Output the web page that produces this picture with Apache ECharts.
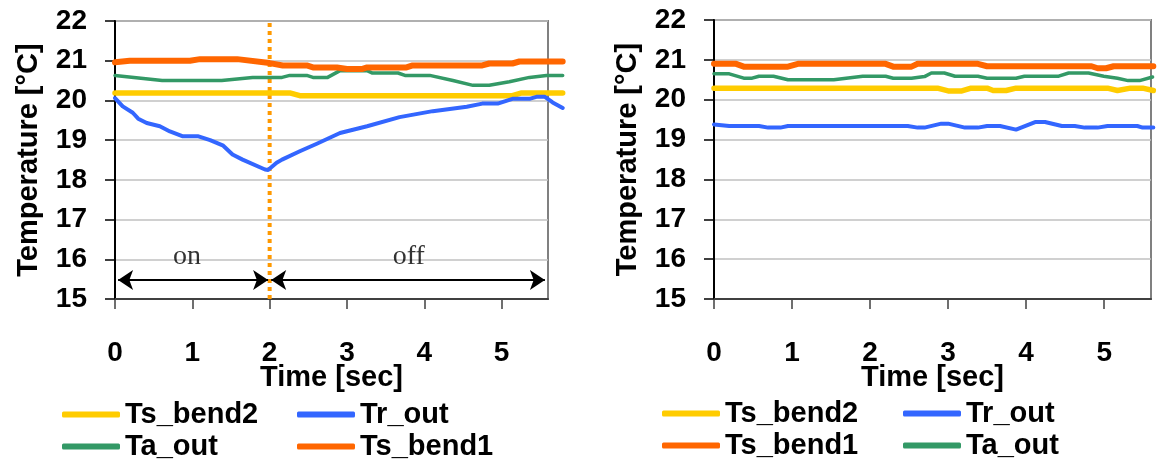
<!DOCTYPE html>
<html>
<head>
<meta charset="utf-8">
<script src="https://cdn.jsdelivr.net/npm/echarts@6/dist/echarts.min.js"></script>
<style>html,body{margin:0;padding:0;background:#fff;}#c{width:1164px;height:461px;}</style>
</head>
<body>
<div id="c"></div>
<script>
// ---- data (time [s], temperature [°C]) ----
const xTicks = [0, 1, 2, 3, 4, 5];
const yTicks = [15, 16, 17, 18, 19, 20, 21, 22];

// left chart (pump on 0-2 s, off afterwards)
const L_Ts_bend2 = [[0,20.19],[2.26,20.19],[2.39,20.12],[5.14,20.12],[5.26,20.19],[5.79,20.19]];
const L_Tr_out = [[0,20.06],[0.10,19.85],[0.23,19.69],[0.30,19.54],[0.41,19.43],[0.58,19.35],[0.71,19.22],[0.87,19.10],[1.07,19.10],[1.23,19.0],[1.40,18.86],[1.52,18.64],[1.65,18.51],[1.94,18.26],[1.98,18.25],[2.09,18.43],[2.16,18.51],[2.39,18.72],[2.61,18.91],[2.91,19.18],[3.26,19.35],[3.68,19.58],[4.11,19.73],[4.55,19.84],[4.75,19.92],[4.95,19.92],[5.14,20.04],[5.36,20.04],[5.45,20.09],[5.56,20.09],[5.66,19.95],[5.79,19.81]];
const L_Ta_out = [[0,20.63],[0.61,20.50],[1.38,20.50],[1.78,20.58],[2.16,20.58],[2.26,20.63],[2.48,20.63],[2.56,20.58],[2.75,20.58],[2.91,20.75],[3.26,20.75],[3.33,20.69],[3.66,20.69],[3.75,20.63],[4.07,20.63],[4.37,20.5],[4.63,20.38],[4.84,20.38],[5.10,20.47],[5.36,20.58],[5.58,20.63],[5.79,20.63]];
const L_Ts_bend1 = [[0,20.96],[0.19,21.0],[0.97,21.0],[1.10,21.04],[1.58,21.04],[2.0,20.94],[2.17,20.88],[2.48,20.88],[2.56,20.83],[2.87,20.83],[3.0,20.79],[3.19,20.79],[3.26,20.83],[3.77,20.83],[3.85,20.88],[4.75,20.88],[4.84,20.93],[5.14,20.93],[5.23,20.98],[5.79,20.98]];

// right chart
const R_Ts_bend2 = [[0,20.29],[2.93,20.29],[3.07,20.22],[3.25,20.22],[3.37,20.29],[3.58,20.29],[3.66,20.23],[3.83,20.23],[3.96,20.29],[5.16,20.29],[5.29,20.23],[5.46,20.29],[5.62,20.29],[5.76,20.23]];
const R_Tr_out = [[0,19.38],[0.20,19.34],[0.59,19.34],[0.71,19.30],[0.87,19.30],[0.97,19.34],[2.54,19.34],[2.67,19.30],[2.76,19.30],[2.98,19.40],[3.07,19.40],[3.29,19.30],[3.46,19.30],[3.58,19.34],[3.75,19.34],[3.96,19.25],[4.21,19.44],[4.34,19.44],[4.56,19.34],[4.73,19.34],[4.86,19.30],[5.03,19.30],[5.16,19.34],[5.55,19.34],[5.62,19.30],[5.76,19.30]];
const R_Ts_bend1 = [[0,20.90],[0.29,20.90],[0.39,20.83],[0.97,20.83],[1.10,20.90],[2.25,20.90],[2.35,20.83],[2.59,20.83],[2.67,20.90],[3.46,20.90],[3.58,20.84],[4.95,20.84],[5.03,20.79],[5.14,20.79],[5.24,20.84],[5.76,20.84]];
const R_Ta_out = [[0,20.65],[0.20,20.65],[0.39,20.54],[0.50,20.54],[0.59,20.59],[0.78,20.59],[0.97,20.50],[1.57,20.50],[1.95,20.59],[2.25,20.59],[2.35,20.54],[2.59,20.54],[2.76,20.58],[2.85,20.67],[3.02,20.67],[3.16,20.59],[3.46,20.59],[3.58,20.54],[3.96,20.54],[4.07,20.59],[4.52,20.59],[4.65,20.67],[4.91,20.67],[5.11,20.59],[5.29,20.54],[5.43,20.48],[5.58,20.48],[5.75,20.57]];

// annotations (left chart)
const switchTime = 2;
const arrowY = 15.48;
const onSpan = [0.04, 1.98];
const offSpan = [2.02, 5.56];
const phaseLabels = [[0.93, 16.07, 'on'], [3.80, 16.07, 'off']];

// ---- styling ----
const FONT = 'Liberation Sans, Arial, sans-serif';
const COLORS = {Ts_bend2:'#FFCC00', Tr_out:'#3366FF', Ta_out:'#339966', Ts_bend1:'#FF6600'};
const WIDTHS = {Ts_bend2:5.5, Tr_out:4, Ta_out:3.5, Ts_bend1:6};
const X_MAX = 5.6, X_DATA_MAX = 5.9;
const plotBoxes = [
  {left:115, top:21, width:433, height:278},
  {left:714, top:20, width:437, height:279}
];
// visible axis grids (0,1) + wider data grids (2,3) sharing the same scale, so the
// lines can run past the right border as in the original
const grids = plotBoxes.map(g => Object.assign({show:true, borderColor:'#808080', borderWidth:2, backgroundColor:'#fff'}, g))
  .concat(plotBoxes.map(g => ({show:false, left:g.left, top:g.top, height:g.height, width:g.width * X_DATA_MAX / X_MAX})));

function mkLine(name, data, idx) {
  return {
    name, type:'line', data, xAxisIndex:idx, yAxisIndex:idx,
    symbol:'none', clip:false, z:3,
    lineStyle:{color:COLORS[name], width:WIDTHS[name], cap:'round', join:'round'},
    itemStyle:{color:COLORS[name]}
  };
}
function mkX(idx) {
  return {
    type:'value', gridIndex:idx, min:0, max:X_MAX, interval:1,
    name:'Time [sec]', nameLocation:'middle', nameGap:64, nameMoveOverlap:false,
    nameTextStyle:{fontFamily:FONT, fontSize:29, fontWeight:'bold', color:'#000'},
    axisLine:{show:true, lineStyle:{color:'#404040', width:2}},
    axisTick:{show:true, length:10, inside:false, customValues:xTicks, lineStyle:{color:'#404040', width:1.5}},
    axisLabel:{customValues:xTicks, margin:40, fontFamily:FONT, fontSize:28, fontWeight:'bold', color:'#000'},
    splitLine:{show:false}
  };
}
function mkY(idx) {
  return {
    type:'value', gridIndex:idx, min:15, max:22, interval:1,
    name:'Temperature [°C]', nameLocation:'middle', nameGap:72, nameMoveOverlap:false,
    nameTextStyle:{fontFamily:FONT, fontSize:29, fontWeight:'bold', color:'#000'},
    axisLine:{show:true, lineStyle:{color:'#000', width:2}},
    axisTick:{show:true, length:10, lineStyle:{color:'#000', width:1.5}},
    axisLabel:{margin:28, fontFamily:FONT, fontSize:28, fontWeight:'bold', color:'#000'},
    splitLine:{show:true, lineStyle:{color:'#C0C0C0', width:1.5}}
  };
}
function mkDataX(idx) { return {type:'value', gridIndex:idx, min:0, max:X_DATA_MAX, show:false}; }
function mkDataY(idx) { return {type:'value', gridIndex:idx, min:15, max:22, show:false}; }
function mkLegend(names, left, top) {
  return {
    data:names, orient:'vertical', left, top, itemGap:3, padding:0,
    icon:'roundRect', itemWidth:58, itemHeight:6,
    textStyle:{fontFamily:FONT, fontSize:29, fontWeight:'bold', color:'#000', lineHeight:29},
    selectedMode:false
  };
}

const option = {
  animation:false,
  backgroundColor:'#fff',
  grid: grids,
  xAxis:[mkX(0), mkX(1), mkDataX(2), mkDataX(3)],
  yAxis:[mkY(0), mkY(1), mkDataY(2), mkDataY(3)],
  legend:[
    mkLegend(['Ts_bend2','Ta_out'], 62, 400),
    mkLegend(['Tr_out','Ts_bend1'], 297, 400),
    mkLegend(['Ts_bend2','Ts_bend1'], 662, 399),
    mkLegend(['Tr_out','Ta_out'], 903, 399)
  ],
  series:[
    {
      name:'switch', type:'line', xAxisIndex:0, yAxisIndex:0, symbol:'none', z:2,
      data:[[switchTime, 15], [switchTime, 22]],
      lineStyle:{color:'#FF9900', width:4, type:[4,4], cap:'butt'},
      markLine:{
        silent:true, symbol:['arrow','arrow'], symbolSize:[15,15],
        lineStyle:{color:'#000', width:2, type:'solid'},
        label:{show:false},
        data:[
          [{coord:[onSpan[0], arrowY]}, {coord:[onSpan[1], arrowY]}],
          [{coord:[offSpan[0], arrowY]}, {coord:[offSpan[1], arrowY]}]
        ]
      }
    },
    {
      name:'phase', type:'scatter', xAxisIndex:0, yAxisIndex:0, symbolSize:0,
      data:phaseLabels,
      label:{show:true, position:'inside', formatter:p => p.data[2],
        fontFamily:'Liberation Serif, Times New Roman, serif', fontSize:28, color:'#000'}
    },
    mkLine('Ta_out', L_Ta_out, 2),
    mkLine('Ts_bend2', L_Ts_bend2, 2),
    mkLine('Tr_out', L_Tr_out, 2),
    mkLine('Ts_bend1', L_Ts_bend1, 2),
    mkLine('Ta_out', R_Ta_out, 3),
    mkLine('Ts_bend2', R_Ts_bend2, 3),
    mkLine('Tr_out', R_Tr_out, 3),
    mkLine('Ts_bend1', R_Ts_bend1, 3)
  ]
};
const chart = echarts.init(document.getElementById('c'), null, {renderer:'canvas'});
chart.setOption(option);
</script>
</body>
</html>
